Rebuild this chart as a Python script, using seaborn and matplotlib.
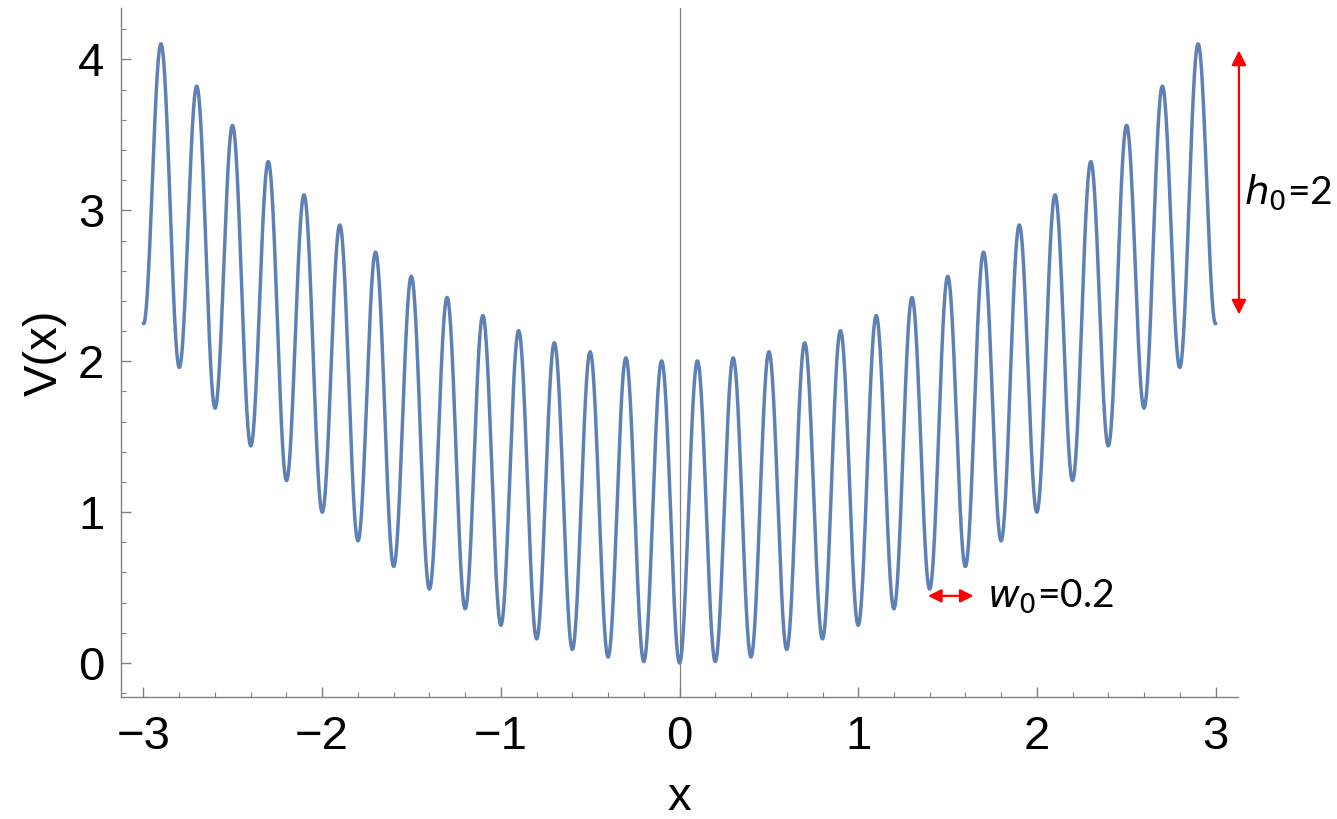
import numpy as np
import pandas as pd
import matplotlib
matplotlib.use("Agg")
import matplotlib.pyplot as plt
import seaborn as sns
from matplotlib.ticker import MultipleLocator

h0 = 2.0          # barrier height
w0 = 0.2          # lattice period
k_trap = 0.25     # harmonic trap curvature (V(3)=2.25 at the edges)
x_range = [-3.0, 3.0]
x_ticks = [-3, -2, -1, 0, 1, 2, 3]
y_ticks = [0, 1, 2, 3, 4]

x_vals = np.linspace(x_range[0], x_range[1], 4001)
v_vals = k_trap * x_vals**2 + h0 * np.sin(np.pi * x_vals / w0) ** 2
df = pd.DataFrame({"x": x_vals, "V": v_vals})

sns.set_style("white")
plt.rcParams['font.family'] = ['Liberation Sans', 'DejaVu Sans']
plt.rcParams['text.color'] = 'black'
plt.rcParams['axes.labelcolor'] = 'black'
plt.rcParams['xtick.labelcolor'] = 'black'
plt.rcParams['ytick.labelcolor'] = 'black'

fig = plt.figure(figsize=(13.37, 8.19), dpi=100)
ax = fig.add_axes([0.0905, 0.149, 0.8355, 0.841])

sns.lineplot(data=df, x="x", y="V", ax=ax, color="#5E81B5", linewidth=2.5,
             sort=False, estimator=None)

ax.set_xlim(-3.125, 3.125)
ax.set_ylim(-0.225, 4.34)
ax.axvline(0, color="#808080", lw=0.9, zorder=0)

gray = "#808080"
for s in ["top", "right"]:
    ax.spines[s].set_visible(False)
for s in ["left", "bottom"]:
    ax.spines[s].set_color(gray)
    ax.spines[s].set_linewidth(1.0)

ax.set_xticks(x_ticks)
ax.set_yticks(y_ticks)
ax.set_xticklabels([("\u2212" + str(-t)) if t < 0 else str(t) for t in x_ticks])
ax.set_yticklabels([str(t) for t in y_ticks])
ax.xaxis.set_minor_locator(MultipleLocator(0.2))
ax.yaxis.set_minor_locator(MultipleLocator(0.2))
ax.tick_params(which="major", direction="in", length=7, width=1.0, color=gray,
               labelsize=34, labelcolor="black", bottom=True, left=True)
ax.tick_params(which="minor", direction="in", length=3.5, width=0.8, color=gray,
               bottom=True, left=True)
ax.tick_params(axis="x", which="major", pad=13)
ax.tick_params(axis="y", which="major", pad=12)

ax.set_xlabel("x", fontsize=34, labelpad=12, color="black")
ax.set_ylabel("V(x)", fontsize=34, labelpad=8, color="black")

# annotations
red = "#FF0000"
ax.annotate("", xy=(3.13, 4.06), xytext=(3.13, 2.31), xycoords="data",
            annotation_clip=False,
            arrowprops=dict(arrowstyle="<|-|>", color=red, lw=1.6,
                            mutation_scale=22, shrinkA=0, shrinkB=0))
ax.text(3.16, 3.12, r"$h_0$=2", fontsize=28, va="center", ha="left",
        family=["Lato", "DejaVu Sans"], color="black", clip_on=False)
ax.annotate("", xy=(1.39, 0.445), xytext=(1.645, 0.445), xycoords="data",
            annotation_clip=False,
            arrowprops=dict(arrowstyle="<|-|>", color=red, lw=1.6,
                            mutation_scale=20, shrinkA=0, shrinkB=0))
ax.text(1.72, 0.445, r"$w_0$=0.2", fontsize=28, va="center", ha="left",
        family=["Lato", "DejaVu Sans"], color="black")

fig.savefig("out.png", dpi=100)
